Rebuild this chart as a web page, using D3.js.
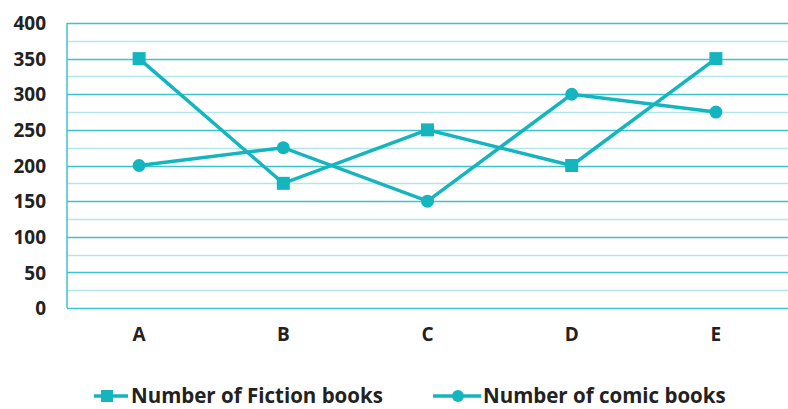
<!DOCTYPE html>
<html>
<head>
<meta charset="utf-8">
<script src="https://cdn.jsdelivr.net/npm/d3@7"></script>
<style>
  body { margin: 0; background: #fff; }
  text { font-family: "Open Sans", sans-serif; font-weight: 700; fill: #222; }
</style>
</head>
<body>
<svg width="788" height="409"></svg>
<script>
var categories = ['A', 'B', 'C', 'D', 'E'];
var fiction = [350, 175, 250, 200, 350];
var comic = [200, 225, 150, 300, 275];
var yTicks = [0, 50, 100, 150, 200, 250, 300, 350, 400];
var seriesNames = ['Number of Fiction books', 'Number of comic books'];

var width = 788;
var height = 409;
var margin = { top: 23, bottom: 101, left: 67, right: 0 };
var teal = '#14b5be';

var svg = d3.select('svg');

// scales
var xScale = d3.scaleBand()
  .domain(categories)
  .range([margin.left, width - margin.right]);
var yScale = d3.scaleLinear()
  .domain([0, 400])
  .range([height - margin.bottom, margin.top]);

// minor grid (every 25)
var minor = d3.range(25, 400, 50);
svg.append('g').selectAll('line')
  .data(minor).join('line')
  .attr('x1', margin.left).attr('x2', width)
  .attr('y1', d => Math.round(yScale(d)) + 0.5)
  .attr('y2', d => Math.round(yScale(d)) + 0.5)
  .attr('stroke', '#b3e6ea').attr('stroke-width', 1.5);

// major grid
svg.append('g').selectAll('line')
  .data(yTicks).join('line')
  .attr('x1', margin.left).attr('x2', width)
  .attr('y1', d => Math.round(yScale(d)) + 0.5)
  .attr('y2', d => Math.round(yScale(d)) + 0.5)
  .attr('stroke', '#3cc4cc').attr('stroke-width', 1.5);

// left axis line
svg.append('line')
  .attr('x1', margin.left).attr('x2', margin.left)
  .attr('y1', yScale(400)).attr('y2', yScale(0))
  .attr('stroke', '#3cc4cc').attr('stroke-width', 1.5);

// y labels
var yAxis = d3.axisLeft(yScale).tickValues(yTicks).tickSize(0).tickPadding(0);
var gy = svg.append('g')
  .attr('transform', 'translate(' + [46, 0] + ')')
  .call(yAxis);
gy.select('.domain').remove();
gy.selectAll('text').style('font-size', '19px').attr('dy', '0.35em');

// x labels
var xAxis = d3.axisBottom(xScale).tickSize(0).tickPadding(0);
var gx = svg.append('g')
  .attr('transform', 'translate(' + [0, 327] + ')')
  .call(xAxis);
gx.select('.domain').remove();
gx.selectAll('text').style('font-size', '19px');

// lines
var line = d3.line()
  .x((d, i) => xScale(categories[i]) + xScale.bandwidth() / 2)
  .y(d => yScale(d));

svg.append('path')
  .attr('d', line(fiction))
  .attr('fill', 'none').attr('stroke', teal).attr('stroke-width', 3.5);
svg.append('path')
  .attr('d', line(comic))
  .attr('fill', 'none').attr('stroke', teal).attr('stroke-width', 3.5);

svg.append('g').selectAll('rect')
  .data(fiction).join('rect')
  .attr('x', (d, i) => xScale(categories[i]) + xScale.bandwidth() / 2 - 6.5)
  .attr('y', d => yScale(d) - 6.5)
  .attr('width', 13).attr('height', 13)
  .attr('fill', teal);

svg.append('g').selectAll('circle')
  .data(comic).join('circle')
  .attr('cx', (d, i) => xScale(categories[i]) + xScale.bandwidth() / 2)
  .attr('cy', d => yScale(d))
  .attr('r', 6.5)
  .attr('fill', teal);

// legend
var ly = 396;
var legend = svg.append('g');
legend.append('line')
  .attr('x1', 94).attr('x2', 128).attr('y1', ly).attr('y2', ly)
  .attr('stroke', teal).attr('stroke-width', 3.5);
legend.append('rect')
  .attr('x', 101).attr('y', ly - 6).attr('width', 12).attr('height', 12)
  .attr('fill', teal);
legend.append('text')
  .attr('x', 131).attr('y', ly).attr('dy', '0.35em')
  .style('font-size', '20.5px')
  .text(seriesNames[0]);

legend.append('line')
  .attr('x1', 433).attr('x2', 481).attr('y1', ly).attr('y2', ly)
  .attr('stroke', teal).attr('stroke-width', 3.5);
legend.append('circle')
  .attr('cx', 458).attr('cy', ly).attr('r', 6)
  .attr('fill', teal);
legend.append('text')
  .attr('x', 483).attr('y', ly).attr('dy', '0.35em')
  .style('font-size', '20.5px')
  .text(seriesNames[1]);
</script>
</body>
</html>
